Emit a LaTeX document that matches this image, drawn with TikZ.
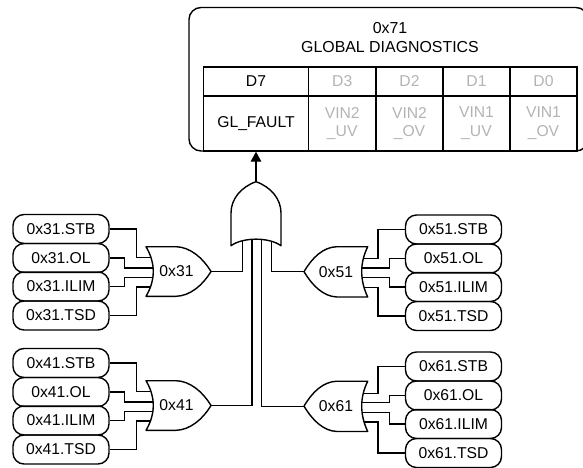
\documentclass[tikz,border=0pt]{standalone}
\usepackage{fontspec}
\usetikzlibrary{arrows.meta}
\setmainfont{Liberation Sans}
\begin{document}
\begin{tikzpicture}[x=1pt,y=-1pt,line width=1.4pt,line join=miter,
  sig/.style={draw,rounded corners=11pt,minimum width=96pt,minimum height=29pt,inner sep=0pt,font=\fontsize{15.7}{18}\selectfont},
  cell/.style={draw,inner sep=0pt,align=center,font=\fontsize{15.7}{18.7}\selectfont},
  off/.style={cell,text=offgray},
  gatelbl/.style={inner sep=0pt,font=\fontsize{15.7}{18}\selectfont},
  wire/.style={draw},
  gateline/.style={draw,fill=white,line join=round}]
\definecolor{offgray}{HTML}{B3B3B3}
\useasboundingbox (0,0) rectangle (583,468);
\clip (0,0) rectangle (583,468);
% register box
\draw[rounded corners=12pt] (189,7.5) rectangle (588,151);
\node[inner sep=0pt,align=center,font=\fontsize{15.9}{18.7}\selectfont] (title) at (390,37.5) {0x71\\GLOBAL DIAGNOSTICS};
\def\cellrow#1#2#3#4#5#6{%
  \node[#6,minimum width=#3 pt,minimum height=29pt] (h#1) at (#2,81.5) {#4};
  \node[#6,minimum width=#3 pt,minimum height=55pt] (v#1) at (#2,123.5) {#5};}
\cellrow{a}{256}{105.5}{D7}{GL\_FAULT}{cell}
\cellrow{b}{342.25}{67}{D3}{VIN2\\\_UV}{off}
\cellrow{c}{409.5}{67}{D2}{VIN2\\\_OV}{off}
\cellrow{d}{476.5}{67}{D1}{VIN1\\\_UV}{off}
\cellrow{e}{543.5}{67}{D0}{VIN1\\\_OV}{off}
% signal boxes
\foreach \n/\t/\y in {a/STB/229,b/OL/258,c/ILIM/286.5,d/TSD/315.5}{
  \node[sig] (s31\n) at (61,\y) {0x31.\t};
  \node[sig] (s41\n) at (61,\y+134) {0x41.\t};}
\foreach \n/\t/\y in {a/STB/229.5,b/OL/258.5,c/ILIM/287,d/TSD/316}{
  \node[sig] (s51\n) at (453.5,\y) {0x51.\t};
  \node[sig] (s61\n) at (453.5,\y+137) {0x61.\t};}
% left gates
\foreach \g/\d in {31/0,41/134}{
  \begin{scope}[yshift=-\d pt]
  \draw[gateline] (146,246.7) .. controls (155.7,263) and (155.7,280) .. (146,296.3)
     -- (176,296.3) .. controls (190,296) and (203,285) .. (211,271.5)
     .. controls (203,258) and (190,247) .. (176,246.7) -- cycle;
  \node[gatelbl] (g\g) at (176.5,271.5) {0x\g};
  \coordinate (g\g a) at (150.2,257.7);
  \coordinate (g\g b) at (152.6,268);
  \coordinate (g\g c) at (152.6,277.7);
  \coordinate (g\g d) at (150.2,287);
  \coordinate (g\g o) at (211,271.5);
  \end{scope}
  \draw[wire] (s\g a.east) -- ++(26.7,0) |- (g\g a);
  \draw[wire] (s\g b.east) -- ++(15,0) |- (g\g b);
  \draw[wire] (s\g c.east) -- ++(15,0) |- (g\g c);
  \draw[wire] (s\g d.east) -- ++(26.7,0) |- (g\g d);
}
% right gates
\foreach \g/\d in {51/0,61/134.5}{
  \begin{scope}[yshift=-\d pt]
  \draw[gateline] (367.7,246.7) .. controls (359.7,263) and (359.7,280) .. (367.7,297)
     -- (337,297) .. controls (323,296.5) and (312,285) .. (304,271.7)
     .. controls (312,258) and (323,247) .. (337,246.7) -- cycle;
  \node[gatelbl] (g\g) at (336,271.7) {0x\g};
  \coordinate (g\g a) at (364.2,258.7);
  \coordinate (g\g b) at (362,268);
  \coordinate (g\g c) at (362,277.7);
  \coordinate (g\g d) at (364.2,287.3);
  \coordinate (g\g o) at (304,271.7);
  \end{scope}
  \draw[wire] (s\g a.west) -- ++(-27,0) |- (g\g a);
  \draw[wire] (s\g b.west) -- ++(-15.3,0) |- (g\g b);
  \draw[wire] (s\g c.west) -- ++(-15.3,0) |- (g\g c);
  \draw[wire] (s\g d.west) -- ++(-27,0) |- (g\g d);
}
% top gate
\draw[gateline] (256,181.7) .. controls (241,187) and (231,199) .. (231,213) -- (231,245.7)
   .. controls (243,237) and (269,237) .. (281,245.7) -- (281,213)
   .. controls (281,199) and (271,187) .. (256,181.7) -- cycle;
\coordinate (ta) at (242.3,241.3);
\coordinate (tb) at (252,239.5);
\coordinate (tc) at (261.7,239.5);
\coordinate (td) at (271.7,241.5);
\coordinate (tout) at (256,181.7);
\draw[wire] (g31o) -| (ta);
\draw[wire] (g41o) -| (tb);
\draw[wire] (g61o) -| (tc);
\draw[wire] (g51o) -| (td);
\draw[-{Triangle[length=10pt,width=10.5pt]}] (tout) -- (va.south);
\end{tikzpicture}
\end{document}
